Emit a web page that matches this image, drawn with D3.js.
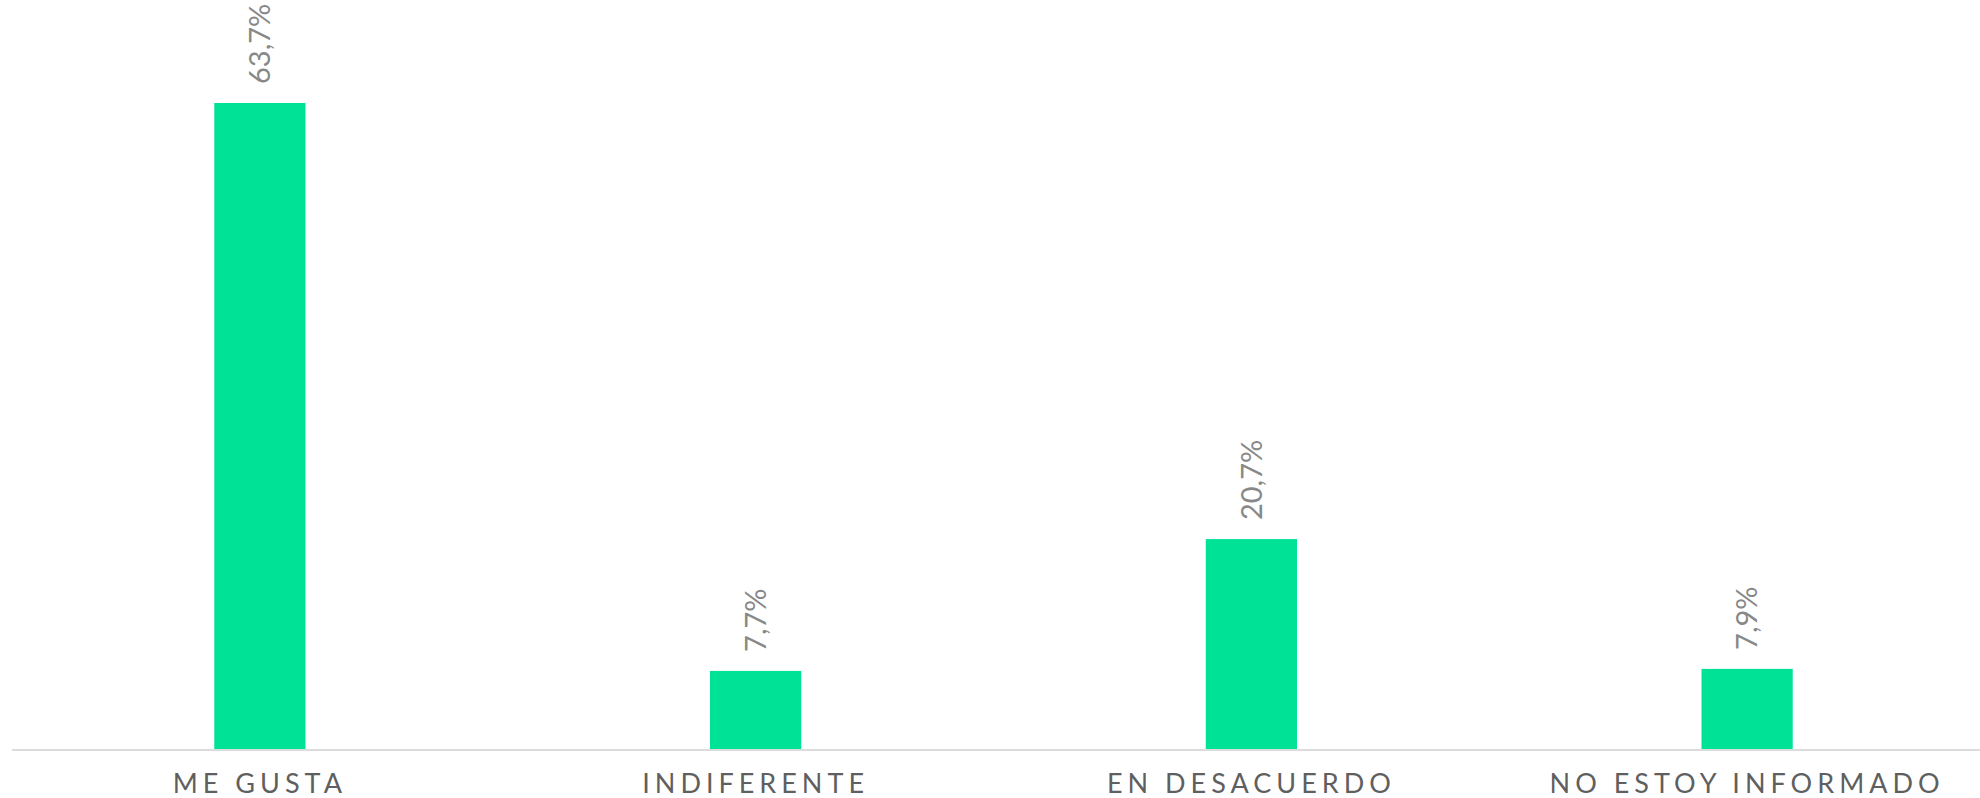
<!DOCTYPE html>
<html>
<head>
<meta charset="utf-8">
<title>Encuesta</title>
<style>
  body { margin: 0; background: #fff; }
  svg { display: block; }
  .cat { font-family: "Lato", "Noto Sans", sans-serif; fill: #5f5f5f; }
  .val { font-family: "Lato", "Noto Sans", sans-serif; fill: #888888; }
</style>
</head>
<body>
<script src="https://d3js.org/d3.v7.min.js"></script>
<script>
var categories = ["ME GUSTA", "INDIFERENTE", "EN DESACUERDO", "NO ESTOY INFORMADO"];
var values = [63.7, 7.7, 20.7, 7.9];
var valueLabels = ["63,7%", "7,7%", "20,7%", "7,9%"];

var width = 1980, height = 798;
var margin = {top: 103, left: 12, bottom: 49};
var baseY = height - margin.bottom;

var svg = d3.select("body").append("svg")
    .attr("width", width)
    .attr("height", height);

var x = d3.scaleBand()
    .domain(categories)
    .range([margin.left, 1995])
    .paddingInner(0.816)
    .paddingOuter(0.408);

var y = d3.scaleLinear()
    .domain([0, d3.max(values)])
    .range([baseY, margin.top]);

var data = categories.map(function (c, i) {
    return {cat: c, value: values[i], label: valueLabels[i]};
});

svg.selectAll("rect.bar")
    .data(data)
    .enter().append("rect")
    .attr("class", "bar")
    .attr("x", function (d) { return x(d.cat); })
    .attr("width", x.bandwidth())
    .attr("y", function (d) { return y(d.value); })
    .attr("height", function (d) { return baseY - y(d.value); })
    .attr("fill", "#00e396");

// baseline
svg.append("line")
    .attr("x1", margin.left).attr("x2", width)
    .attr("y1", baseY + 1).attr("y2", baseY + 1)
    .attr("stroke", "#dcdcdc")
    .attr("stroke-width", 2);

// value labels, rotated
svg.selectAll("text.val")
    .data(data)
    .enter().append("text")
    .attr("class", "val")
    .attr("transform", function (d) {
        return "translate(" + (x(d.cat) + x.bandwidth() / 2) + "," + (y(d.value) - 19) + ") rotate(-90)";
    })
    .attr("dy", "0.35em")
    .style("font-size", "29px")
    .text(function (d) { return d.label; });

// category labels
svg.selectAll("text.cat")
    .data(data)
    .enter().append("text")
    .attr("class", "cat")
    .attr("x", function (d) { return x(d.cat) + x.bandwidth() / 2; })
    .attr("y", 793)
    .attr("text-anchor", "middle")
    .style("font-size", "27px")
    .style("letter-spacing", "5px")
    .text(function (d) { return d.cat; });
</script>
</body>
</html>
